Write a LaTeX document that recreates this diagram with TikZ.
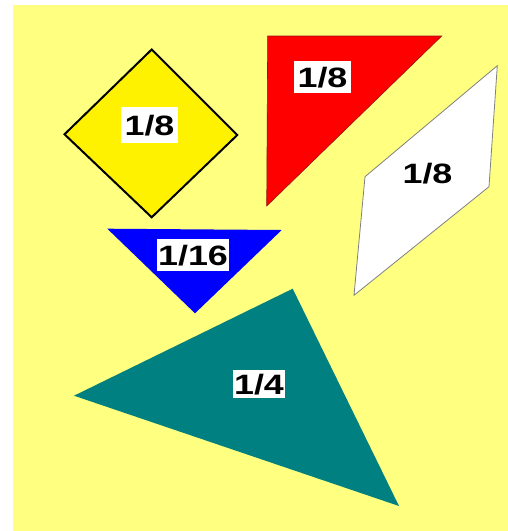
\documentclass[tikz,border=0pt]{standalone}
\usepackage{fontspec}
\setmainfont{Liberation Sans}
\definecolor{bgyellow}{RGB}{255,255,128}
\definecolor{teal}{RGB}{0,128,128}
\definecolor{darkred}{RGB}{150,20,20}
\begin{document}
\begin{tikzpicture}[x=1pt,y=-1pt,
  lbl/.style={fill=white,inner xsep=2.5pt,inner ysep=0pt,minimum height=32pt,
    font=\fontsize{28}{28}\bfseries\selectfont,xscale=1.28,text depth=0pt},
  piece/.style={line join=miter}]
\useasboundingbox (0,0) rectangle (508,531);
\fill[white] (0,0) rectangle (508,531);
\fill[bgyellow] (13,5) rectangle (508,531);
% yellow square
\draw[piece,fill=yellow,draw=black,line width=2pt]
  (151.7,49.5) -- (237.3,135) -- (151.7,217.3) -- (64.5,134.3) -- cycle;
% red triangle
\draw[piece,fill=red,draw=darkred,line width=0.6pt]
  (267.7,36) -- (441.7,36) -- (266.7,206) -- cycle;
% white parallelogram
\draw[piece,fill=white,draw=gray,line width=0.8pt]
  (497.3,65.7) -- (489,186.7) -- (354,295.3) -- (365,176.7) -- cycle;
% blue triangle
\fill[blue] (107.3,228.7) -- (281.7,230) -- (195,313.3) -- cycle;
% teal triangle
\fill[teal] (292.7,288.7) -- (399,506) -- (74,395.7) -- cycle;
% labels
\node[lbl,minimum height=36pt] (ly) at (149.5,125) {1/8};
\node[lbl] (lr) at (322.5,77) {1/8};
\node[lbl] (lw) at (427.5,173) {1/8};
\node[lbl,inner xsep=0.5pt] (lb) at (193,255) {1/16};
\node[lbl,minimum height=28pt,inner xsep=1pt] (lt) at (259,384) {1/4};
\end{tikzpicture}
\end{document}
